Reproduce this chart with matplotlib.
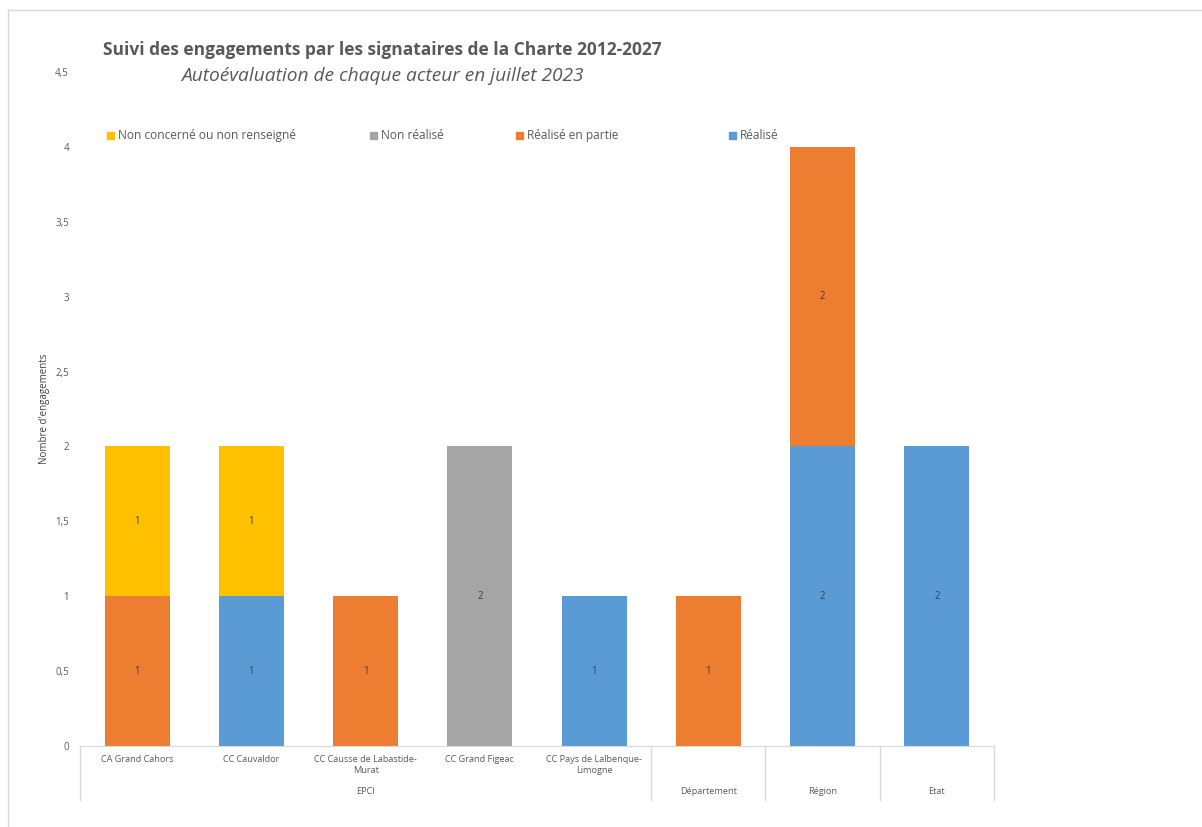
import numpy as np
import matplotlib.pyplot as plt
from matplotlib.patches import Rectangle

plt.rcParams['font.family'] = ['Open Sans', 'DejaVu Sans']

# Données
categories = ["CA Grand Cahors", "CC Cauvaldor", "CC Causse de Labastide-\nMurat",
              "CC Grand Figeac", "CC Pays de Lalbenque-\nLimogne", "", "", ""]
groupes = ["EPCI", "Département", "Région", "Etat"]
groupe_debut = [0, 5, 6, 7]
groupe_fin = [4, 5, 6, 7]

realise = [0, 1, 0, 0, 1, 0, 2, 2]
realise_partie = [1, 0, 1, 0, 0, 1, 2, 0]
non_realise = [0, 0, 0, 2, 0, 0, 0, 0]
non_concerne = [1, 1, 0, 0, 0, 0, 0, 0]

series = [
    ("Réalisé", realise, "#5B9BD5"),
    ("Réalisé en partie", realise_partie, "#ED7D31"),
    ("Non réalisé", non_realise, "#A5A5A5"),
    ("Non concerné ou non renseigné", non_concerne, "#FFC000"),
]

W, H = 1202, 827
fig = plt.figure(figsize=(W / 100, H / 100), dpi=100)

# cadre du graphique (Excel)
fig.add_artist(plt.Line2D([8 / W, 1], [1 - 10 / H, 1 - 10 / H], color="#D9D9D9", lw=1))
fig.add_artist(plt.Line2D([8 / W, 8 / W], [0, 1 - 10 / H], color="#D9D9D9", lw=1))

ax = fig.add_axes([80 / W, (H - 746) / H, (994 - 80) / W, (746 - 72) / H])

x = np.arange(len(categories))
bottom = np.zeros(len(categories))
for nom, vals, couleur in series:
    vals = np.array(vals, dtype=float)
    ax.bar(x, vals, width=0.57, bottom=bottom, color=couleur, label=nom)
    for xi, v, b in zip(x, vals, bottom):
        if v > 0:
            ax.text(xi, b + v / 2, f"{v:g}", ha="center", va="center",
                    fontsize=7, color="#404040")
    bottom += vals

ax.set_xlim(-0.5, len(categories) - 0.5)
ax.set_ylim(0, 4.5)
ax.set_yticks(np.arange(0, 4.51, 0.5))
ax.set_yticklabels([f"{t:g}".replace(".", ",") for t in np.arange(0, 4.51, 0.5)])
ax.tick_params(axis="y", length=0, labelsize=7, labelcolor="#595959", pad=8)
ax.tick_params(axis="x", length=0)
ax.set_xticks([])
for s in ["left", "top", "right"]:
    ax.spines[s].set_visible(False)
ax.spines["bottom"].set_color("#D9D9D9")

ax.set_ylabel("Nombre d'engagements", fontsize=7, color="#404040")
ax.yaxis.set_label_coords((50 - 80) / (994 - 80), 0.5)

# étiquettes de catégories à deux niveaux
frac = 1 / (746 - 72)
for xi, lab in zip(x, categories):
    ax.text(xi, -9 * frac, lab, transform=ax.get_xaxis_transform(), ha="center",
            va="top", fontsize=6.6, color="#595959", linespacing=1.35)
for g, d, f in zip(groupes, groupe_debut, groupe_fin):
    ax.text((d + f) / 2, -41 * frac, g, transform=ax.get_xaxis_transform(),
            ha="center", va="top", fontsize=6.6, color="#595959")
for sep in [-0.5, 4.5, 5.5, 6.5, 7.5]:
    ax.plot([sep, sep], [0, -54 * frac], transform=ax.get_xaxis_transform(),
            color="#D9D9D9", lw=1, clip_on=False)

# légende
ordre = [3, 2, 1, 0]
leg_x = [107, 370, 516, 729]
for i, xp in zip(ordre, leg_x):
    fig.add_artist(Rectangle((xp / W, 1 - 139 / H), 7 / W, 7 / H,
                             color=series[i][2], transform=fig.transFigure))
    fig.text((xp + 11) / W, 1 - 135.5 / H, series[i][0], fontsize=8.6,
             color="#595959", va="center", ha="left")

fig.text(382 / W, 1 - 50 / H, "Suivi des engagements par les signataires de la Charte 2012-2027",
         ha="center", va="center", fontsize=12.5, fontweight="bold", color="#595959")
fig.text(382 / W, 1 - 76 / H, "Autoévaluation de chaque acteur en juillet 2023",
         ha="center", va="center", fontsize=13.8, fontstyle="italic", color="#595959")

fig.savefig("out.png", dpi=100, facecolor="white")
